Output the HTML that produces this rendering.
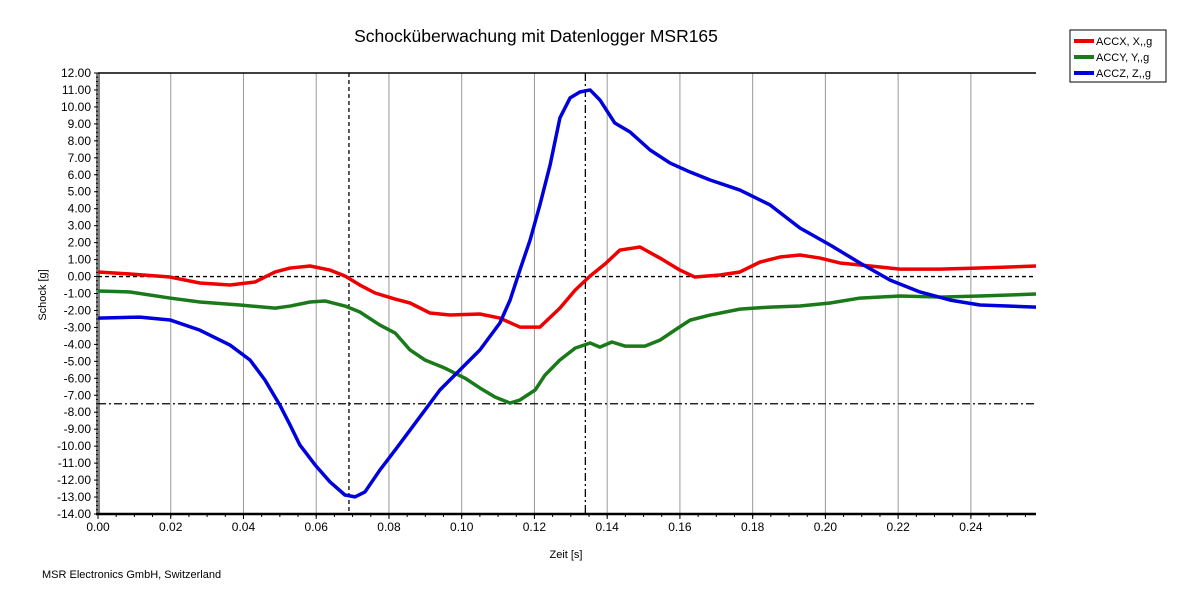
<!DOCTYPE html>
<html><head><meta charset="utf-8"><style>
body{margin:0;background:#fff;}
svg text{font-family:"Liberation Sans",sans-serif;}
</style></head><body>
<svg id="c" width="1204" height="604" xmlns="http://www.w3.org/2000/svg">
<text x="536" y="42" font-size="17.5" text-anchor="middle">Schocküberwachung mit Datenlogger MSR165</text>
<text transform="translate(46,295) rotate(-90)" font-size="11" text-anchor="middle">Schock [g]</text>
<text x="566" y="558" font-size="11" text-anchor="middle">Zeit [s]</text>
<text x="42" y="578" font-size="11">MSR Electronics GmbH, Switzerland</text>
<g>
<rect x="1070" y="30" width="96" height="52" fill="#fff" stroke="#000"/>
<line x1="1074" y1="41" x2="1094" y2="41" stroke="#e00" stroke-width="4"/>
<text x="1096" y="45" font-size="11">ACCX, X,,g</text>
<line x1="1074" y1="57" x2="1094" y2="57" stroke="#1a7a1a" stroke-width="4"/>
<text x="1096" y="61" font-size="11">ACCY, Y,,g</text>
<line x1="1074" y1="73" x2="1094" y2="73" stroke="#00d" stroke-width="4"/>
<text x="1096" y="77" font-size="11">ACCZ, Z,,g</text>
</g>
<g id="plot"></g>
</svg>
<script>
const xTicks=[0,0.02,0.04,0.06,0.08,0.10,0.12,0.14,0.16,0.18,0.20,0.22,0.24];
const yTicks=[12,11,10,9,8,7,6,5,4,3,2,1,0,-1,-2,-3,-4,-5,-6,-7,-8,-9,-10,-11,-12,-13,-14];
const tX=[0,.0088,.0198,.0280,.0363,.0432,.0487,.0528,.0583,.0638,.0679,.0720,.0762,.0817,.0858,.0913,.0968,.1050,.1105,.1160,.1215,.1270,.1312,.1353,.1394,.1435,.1490,.1545,.1600,.1641,.1710,.1765,.1820,.1875,.1930,.1985,.2040,.2123,.2205,.2315,.2425,.2579];
const accx=[0.27,0.15,-0.03,-0.38,-0.50,-0.32,0.27,0.50,0.62,0.38,0.03,-0.50,-0.97,-1.33,-1.56,-2.15,-2.27,-2.21,-2.45,-2.98,-2.98,-1.86,-0.80,0.03,0.74,1.56,1.74,1.09,0.38,-0.03,0.09,0.27,0.85,1.15,1.27,1.09,0.80,0.62,0.44,0.44,0.50,0.62];
const tY=[0,.0088,.0198,.0280,.0390,.0487,.0528,.0583,.0624,.0679,.0720,.0775,.0817,.0858,.0899,.0954,.1009,.1050,.1092,.1133,.1160,.1202,.1229,.1270,.1312,.1353,.1380,.1413,.1449,.1504,.1545,.1586,.1628,.1683,.1765,.1848,.1930,.2013,.2095,.2205,.2315,.2425,.2579];
const accy=[-0.85,-0.91,-1.27,-1.50,-1.68,-1.86,-1.74,-1.50,-1.44,-1.74,-2.09,-2.86,-3.33,-4.33,-4.92,-5.40,-5.99,-6.57,-7.11,-7.46,-7.28,-6.69,-5.81,-4.92,-4.22,-3.92,-4.16,-3.86,-4.10,-4.10,-3.75,-3.16,-2.57,-2.27,-1.92,-1.80,-1.74,-1.56,-1.27,-1.15,-1.21,-1.15,-1.03];
const tZ=[0,.0115,.0198,.0280,.0363,.0418,.0459,.0500,.0528,.0555,.0597,.0638,.0679,.0707,.0734,.0775,.0817,.0858,.0899,.0940,.0995,.1050,.1105,.1133,.1160,.1188,.1215,.1243,.1270,.1298,.1325,.1353,.1380,.1421,.1463,.1518,.1573,.1628,.1683,.1765,.1848,.1930,.2013,.2095,.2178,.2260,.2343,.2425,.2579];
const accz=[-2.45,-2.39,-2.56,-3.16,-4.04,-4.92,-6.10,-7.58,-8.75,-9.93,-11.11,-12.11,-12.88,-12.99,-12.70,-11.41,-10.23,-9.05,-7.87,-6.69,-5.51,-4.33,-2.74,-1.39,0.38,2.15,4.22,6.57,9.35,10.53,10.88,11.00,10.41,9.05,8.52,7.46,6.69,6.16,5.69,5.10,4.22,2.86,1.86,0.80,-0.21,-0.91,-1.39,-1.68,-1.80];
const hLines=[0,-7.5];
const vCursors=[0.069,0.134];

const L=98,R=1036,T=73,B=514,tMax=(R-L)/3637,yMin=-14,yMax=12;
const X=t=>L+t/tMax*(R-L);
const Y=v=>T+(yMax-v)/(yMax-yMin)*(B-T);
const NS='http://www.w3.org/2000/svg';
const g=document.getElementById('plot');
function mk(tag,at){const e=document.createElementNS(NS,tag);for(const k in at)e.setAttribute(k,at[k]);g.appendChild(e);return e;}
xTicks.forEach((t,i)=>{
 if(i>0){const l=mk('line',{x1:X(t),x2:X(t),y1:T,y2:B,stroke:'#999','stroke-width':1});
 
 }
 const tk=mk('line',{x1:X(t),x2:X(t),y1:B,y2:B+5,stroke:'#000'});
 
 
 const tx=mk('text',{x:X(t),y:B+17,'font-size':12,'text-anchor':'middle'});
 tx.textContent=t.toFixed(2);
 
 
});
for(let t=0;t<=tMax;t+=0.005){const m=mk('line',{x1:X(t),x2:X(t),y1:B,y2:B+3,stroke:'#000'});
 
 }
yTicks.forEach(v=>{
 const tk=mk('line',{x1:L-4,x2:L,y1:Y(v),y2:Y(v),stroke:'#000'});
 
 
 const tx=mk('text',{x:L-7,y:Y(v)+4,'font-size':12,'text-anchor':'end'});
 tx.textContent=v.toFixed(2);
 
 
});
for(let v=yMin;v<=yMax;v+=0.25){const m=mk('line',{x1:L-2,x2:L,y1:Y(v),y2:Y(v),stroke:'#000'});
 
 }
const topBorder=mk('line',{x1:L,x2:R,y1:T,y2:T,stroke:'#000','stroke-width':1.5});


const botBorder=mk('line',{x1:L-2,x2:R,y1:B,y2:B,stroke:'#000','stroke-width':2.5});


const leftOuter=mk('line',{x1:L-1,x2:L-1,y1:T,y2:B,stroke:'#000','stroke-width':1});


const leftInner=mk('line',{x1:L+1,x2:L+1,y1:T,y2:B,stroke:'#000','stroke-width':1});


hLines.forEach((v,i)=>{const l=mk('line',{x1:L,x2:R,y1:Y(v),y2:Y(v),stroke:'#000','stroke-width':1.3,'stroke-dasharray':i==0?'4,3':'8,3,2,3'});
 
 });
vCursors.forEach((t,i)=>{const l=mk('line',{x1:X(t),x2:X(t),y1:T,y2:B,stroke:'#000','stroke-width':1.3,'stroke-dasharray':i==0?'4,3':'8,3,2,3'});
 
 });
[[tX,accx,'#e00','series-accx'],[tY,accy,'#1a7a1a','series-accy'],[tZ,accz,'#00d','series-accz']].forEach(([ts,vs,c,n])=>{
 const p=mk('polyline',{points:ts.map((t,i)=>X(t)+','+Y(vs[i])).join(' '),fill:'none',stroke:c,'stroke-width':3.5,'stroke-linejoin':'round'});
 
 
});
</script>
</body></html>
